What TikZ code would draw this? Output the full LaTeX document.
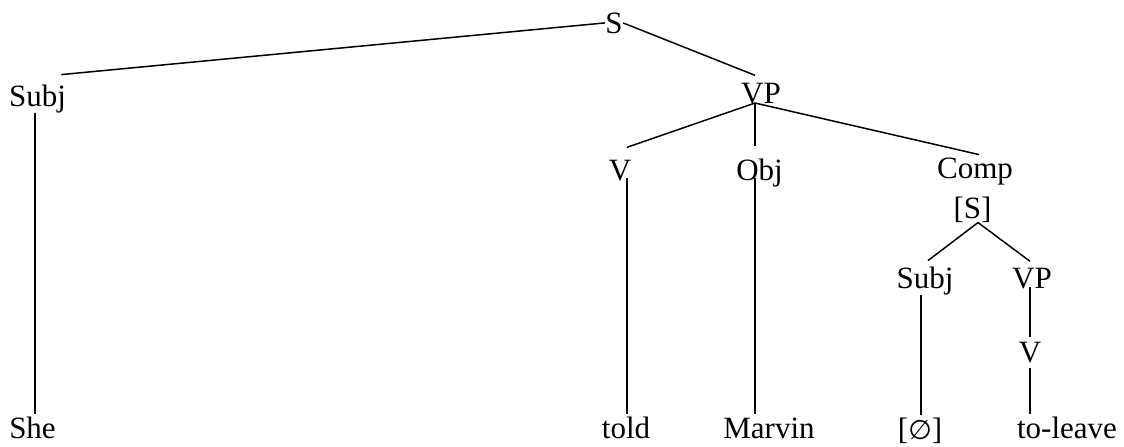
\documentclass[tikz,border=0pt]{standalone}
\usepackage{fontspec}
\setmainfont{Liberation Serif}
\newfontfamily\symfont{DejaVu Sans}
\tikzset{
  cat/.style={
    inner sep=0pt,
    anchor=base,
    font=\fontsize{15.5pt}{18pt}\selectfont,
  },
  branch/.style={
    draw=black,
    line width=0.75pt,
  },
}

\begin{document}
\begin{tikzpicture}[x=0.5pt,y=-0.5pt]
  \useasboundingbox (0,0) rectangle (1124,446);

  \node[cat] (S) at (614,33) {S};
  \node[cat] (Subj) at (37.5,106) {Subj};
  \node[cat] (VP) at (761,103) {VP};
  \node[cat] (V) at (620,180) {V};
  \node[cat] (Obj) at (759.5,180) {Obj};
  \node[cat] (Comp) at (975,178) {Comp};
  \node[cat] (CompS) at (972.5,218) {[S]};
  \node[cat] (SubjB) at (925,288) {Subj};
  \node[cat] (VPB) at (1032,288) {VP};
  \node[cat] (VB) at (1030,362) {V};

  \node[cat] (She) at (32.5,438) {She};
  \node[cat] (told) at (626,438) {told};
  \node[cat] (Marvin) at (769,438) {Marvin};
  \node[cat] (empty) at (920,439) {[{\symfont\fontsize{13.5pt}{16pt}\selectfont ∅}]};
  \node[cat] (leave) at (1067,438) {to-leave};

  \draw[branch] (S.west) -- ([xshift=-2.5pt,yshift=4.75pt]Subj.north east);
  \draw[branch] (S.east) -- ([xshift=-3pt,yshift=3.5pt]VP.north);
  \draw[branch] ([xshift=-3pt]VP.base) -- ([xshift=3.5pt,yshift=6pt]V.north);
  \draw[branch] ([xshift=-3pt]VP.base) -- ([xshift=-2.25pt,yshift=6pt]Obj.north);
  \draw[branch] ([xshift=-3pt]VP.base) -- ([xshift=2pt,yshift=1.25pt]Comp.north);
  \draw[branch] ([xshift=-1.25pt]Subj.south) -- ([xshift=1.25pt,yshift=1.25pt]She.north);
  \draw[branch] ([xshift=3.5pt,yshift=1pt]V.base) -- ([xshift=0.5pt,yshift=1.25pt]told.north);
  \draw[branch] ([xshift=-2.25pt,yshift=1pt]Obj.base) -- ([xshift=-7pt,yshift=1.5pt]Marvin.north);
  \draw[branch] ([xshift=2.75pt]CompS.south) -- ([xshift=1.5pt,yshift=2.75pt]SubjB.north);
  \draw[branch] ([xshift=2.75pt]CompS.south) -- ([xshift=-1pt,yshift=3pt]VPB.north);
  \draw[branch] ([xshift=-2pt]SubjB.south) -- ([xshift=0.5pt,yshift=1.25pt]empty.north);
  \draw[branch] ([xshift=-1pt,yshift=0.5pt]VPB.base) -- ([yshift=2pt]VB.north);
  \draw[branch] ([yshift=-3pt]VB.base) -- ([xshift=-18.5pt,yshift=1.25pt]leave.north);
\end{tikzpicture}
\end{document}
